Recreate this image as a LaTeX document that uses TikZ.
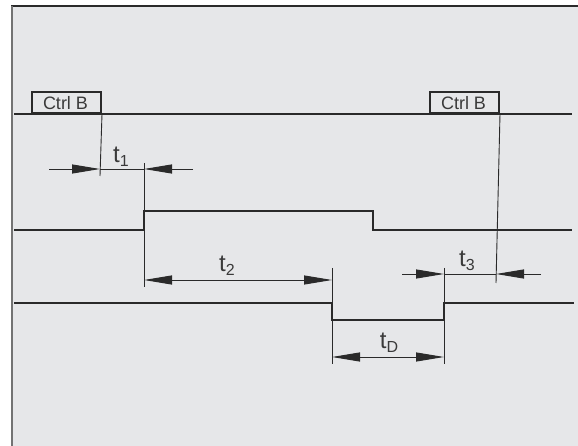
\documentclass[tikz,border=0pt]{standalone}
\usepackage{fontspec}
\setmainfont{Liberation Sans}
\usetikzlibrary{arrows.meta}
\definecolor{bg}{HTML}{E6E7E9}
\definecolor{ink}{HTML}{2A2A2A}
\definecolor{txt}{HTML}{3A3A3A}
\newcommand{\subsz}[1]{\raisebox{-4pt}{\fontsize{16}{16}\selectfont #1}}
\tikzset{
  sig/.style={line width=2.2pt, color=ink, line join=miter},
  dim/.style={line width=0.9pt, color=ink},
  tip/.style={-{Triangle[length=28pt,width=9pt]}},
  bitip/.style={{Triangle[length=28pt,width=9pt]}-{Triangle[length=28pt,width=9pt]}},
  ctrlbox/.style={draw=ink, line width=2pt, minimum width=69pt, minimum height=21pt, inner sep=0pt, anchor=south west, font=\fontsize{18}{18}\selectfont, text=txt},
  tlabel/.style={anchor=base, font=\fontsize{24}{24}\selectfont, text=txt, inner sep=0pt}
}
\begin{document}
\begin{tikzpicture}[x=1pt,y=-1pt]
\useasboundingbox (0,0) rectangle (578,446);
\fill[white] (0,0) rectangle (578,446);
\fill[bg] (12,7) rectangle (578,446);
\draw[line width=2pt, color=ink] (11,6) -- (578,6);
\draw[line width=2pt, color=gray!90!black] (12,6) -- (12,446);

% Control signal
\node[ctrlbox] (cb1) at (31,114) {};
\node[ctrlbox] (cb2) at (429,114) {};
\node[text=txt, font=\fontsize{18}{18}\selectfont, anchor=base, inner sep=0pt] (cbt1) at (65.5,110) {Ctrl B};
\node[text=txt, font=\fontsize{18}{18}\selectfont, anchor=base, inner sep=0pt] (cbt2) at (463.5,110) {Ctrl B};
\draw[sig] (14,114) -- (572,114);

% Signal 2
\draw[sig] (14,230) -- (144,230) -- (144,211) -- (373,211) -- (373,230) -- (572,230);

% Signal 3
\draw[sig] (14,303) -- (332,303) -- (332,320) -- (444,320) -- (444,303) -- (574,303);

% extension lines
\draw[dim] (cb1.south east) -- (100,176);
\draw[dim] (144,163) -- (144,287);
\draw[dim] (332,268) -- (332,364);
\draw[dim] (444,268) -- (444,364);
\draw[dim] (cb2.south east) -- (496,283);

% t1
\coordinate (a1) at (49,169); \coordinate (b1) at (100,169);
\coordinate (c1) at (144,169); \coordinate (d1) at (193,169);
\draw[dim,tip] (a1) -- (b1);
\draw[dim] (b1) -- (c1);
\draw[dim,tip] (d1) -- (c1);
\node[tlabel] (lt1) at (121,163) {t\subsz{1}};

% t2
\coordinate (a2) at (144,280); \coordinate (b2) at (332,280);
\draw[dim,bitip] (a2) -- (b2);
\node[tlabel] (lt2) at (227,272) {t\subsz{2}};

% t3
\coordinate (a3) at (402,274); \coordinate (b3) at (444,274);
\coordinate (c3) at (496,274); \coordinate (d3) at (541,274);
\draw[dim,tip] (a3) -- (b3);
\draw[dim] (b3) -- (c3);
\draw[dim,tip] (d3) -- (c3);
\node[tlabel] (lt3) at (467,267) {t\subsz{3}};

% tD
\coordinate (aD) at (332,357); \coordinate (bD) at (444,357);
\draw[dim,bitip] (aD) -- (bD);
\node[tlabel] (ltD) at (389,348) {t\subsz{D}};
\end{tikzpicture}
\end{document}
